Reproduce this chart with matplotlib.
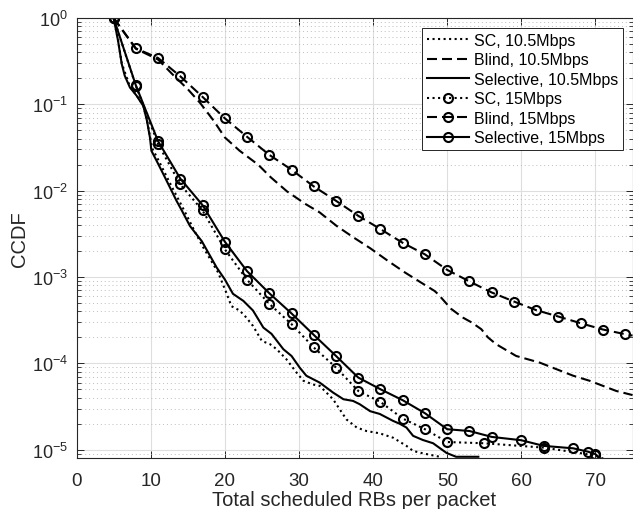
import matplotlib
matplotlib.use("Agg")
import matplotlib.pyplot as plt

plt.rcParams['font.family'] = ['Liberation Sans', 'DejaVu Sans']
plt.rcParams['mathtext.default'] = 'regular'

# SC, 10.5Mbps
sc105_x = [5, 5.6, 6.1, 7.2, 8.1, 9.0, 9.5, 9.9, 10.2, 11.0, 12.0, 13.0, 14.0, 15.0, 16.0,
           17.1, 19.1, 20.2, 20.9, 22.0, 22.9, 23.8, 25.0, 26.1, 27.0, 28.3, 29.7, 30.6,
           31.9, 32.8, 34.6, 36.4, 37.8, 39.1, 40.9, 42.7, 44.5, 45.4, 46.7, 49.0]
sc105_y = [1.0, 0.55, 0.30, 0.16, 0.127, 0.097, 0.066, 0.043, 0.031, 0.023, 0.0155, 0.0105,
           0.0072, 0.0049, 0.0033, 0.0022, 0.00113, 0.00066, 0.00046, 0.00041, 0.00034,
           0.000272, 0.000182, 0.000167, 0.000146, 0.000112, 7.8e-5, 6.3e-5, 5.7e-5, 5.5e-5,
           3.85e-5, 2.25e-5, 1.81e-5, 1.65e-5, 1.55e-5, 1.38e-5, 1.11e-5, 9.7e-6, 9.1e-6, 8.3e-6]

# Blind, 10.5Mbps
bl105_x = [5, 8, 11, 13, 15, 16.7, 18.5, 20, 22, 24.5, 26.2, 28.4, 30.9, 32.8, 35.1, 37.3,
           39.6, 42, 44.3, 46.6, 48.3, 48.8, 50.5, 52.1, 53.3, 54.6, 55.5, 56.6, 59.3, 62.5,
           64.7, 67, 69.2, 71, 72.8, 75]
bl105_y = [1.0, 0.44, 0.33, 0.22, 0.15, 0.103, 0.0646, 0.0414, 0.029, 0.020, 0.0143, 0.0098,
           0.0070, 0.0056, 0.0039, 0.0029, 0.00216, 0.00154, 0.00113, 0.00085, 0.00069, 0.00063,
           0.00043, 0.00034, 0.000298, 0.000249, 0.0002, 0.000167, 0.000122, 0.000102,
           8.6e-5, 7.2e-5, 6.3e-5, 5.5e-5, 4.8e-5, 4.3e-5]

# Selective, 10.5Mbps
se105_x = [5, 5.6, 6.1, 6.5, 7.2, 8.1, 9.0, 9.5, 9.9, 10.1, 10.8, 11.7, 12.6, 13.5, 14.2,
           15.3, 16.9, 18.9, 20.0, 21.1, 22.5, 23.8, 25.2, 26.3, 27.9, 29.0, 30.1, 31.0,
           32.8, 34.6, 36.0, 37.3, 38.2, 39.6, 40.9, 42.7, 43.6, 44.5, 45.4, 46.7, 48.1,
           49.9, 51.2, 54.2]
se105_y = [1.0, 0.546, 0.293, 0.215, 0.157, 0.126, 0.096, 0.0646, 0.0414, 0.029, 0.0222,
           0.0156, 0.0109, 0.0076, 0.0059, 0.0039, 0.0026, 0.00129, 0.00094, 0.00064, 0.00053,
           0.00041, 0.00026, 0.00022, 0.000146, 0.000122, 8.95e-5, 7.2e-5, 6.0e-5, 4.6e-5,
           3.85e-5, 3.68e-5, 3.37e-5, 2.8e-5, 2.6e-5, 2.16e-5, 2.0e-5, 1.81e-5, 1.45e-5,
           1.30e-5, 1.19e-5, 9.2e-6, 8.3e-6, 8.3e-6]

# SC, 15Mbps
sc15_x = [5, 8, 11, 14, 17, 20, 23, 26, 29, 32, 35, 38, 41, 44, 47, 50, 55, 63, 70, 72.5]
sc15_y = [1.0, 0.164, 0.0347, 0.0118, 0.0059, 0.0021, 0.00093, 0.00049, 0.000285, 0.000153,
          8.96e-5, 4.8e-5, 3.58e-5, 2.3e-5, 1.73e-5, 1.23e-5, 1.19e-5, 1.06e-5, 8.6e-6, 7.0e-6]

# Blind, 15Mbps
bl15_x = [5, 8, 11, 14, 17, 20, 23, 26, 29, 32, 35, 38, 41, 44, 47, 50, 53, 56, 59, 62, 65,
          68, 71, 74, 75]
bl15_y = [1.0, 0.445, 0.344, 0.211, 0.122, 0.0689, 0.0421, 0.026, 0.0175, 0.0112, 0.00764,
          0.00512, 0.00359, 0.00249, 0.00183, 0.00121, 0.00089, 0.000663, 0.000521, 0.000414,
          0.000349, 0.000292, 0.000247, 0.000218, 0.00021]

# Selective, 15Mbps
se15_x = [5, 8, 11, 14, 17, 20, 23, 26, 29, 32, 35, 38, 41, 44, 47, 50, 53, 56, 60, 63, 67,
          69, 70, 71.3]
se15_y = [1.0, 0.166, 0.0374, 0.0138, 0.0068, 0.00257, 0.00117, 0.00065, 0.000379, 0.000214,
          0.000122, 6.86e-5, 5.02e-5, 3.75e-5, 2.65e-5, 1.73e-5, 1.65e-5, 1.41e-5, 1.29e-5,
          1.11e-5, 1.04e-5, 9.5e-6, 8.9e-6, 7.0e-6]

fig = plt.figure(figsize=(6.33, 5.10), dpi=100)
ax = fig.add_axes([0.1209, 0.1006, 0.8784, 0.8622])

lw = 1.5
dash = (4.8, 2.4)
mk = dict(marker='o', markersize=6.5, markerfacecolor='none', markeredgewidth=1.5,
          markeredgecolor='black')

ax.plot(sc105_x, sc105_y, color='black', lw=lw, linestyle=':', label='SC, 10.5Mbps')
ax.plot(bl105_x, bl105_y, color='black', lw=lw, linestyle='--', dashes=dash,
        label='Blind, 10.5Mbps')
ax.plot(se105_x, se105_y, color='black', lw=lw, linestyle='-', label='Selective, 10.5Mbps')
ax.plot(sc15_x, sc15_y, color='black', lw=lw, linestyle=':',
        markevery=list(range(len(sc15_x) - 1)), label='SC, 15Mbps', **mk)
ax.plot(bl15_x, bl15_y, color='black', lw=lw, linestyle='--', dashes=dash,
        markevery=list(range(len(bl15_x) - 1)), label='Blind, 15Mbps', **mk)
ax.plot(se15_x, se15_y, color='black', lw=lw, linestyle='-',
        markevery=list(range(len(se15_x) - 1)), label='Selective, 15Mbps', **mk)

ax.set_yscale('log')
ax.set_xlim(0, 75)
ax.set_ylim(8.1e-6, 1)
ax.set_xticks(range(0, 80, 10))

ax.grid(True, which='major', color='#dedede', linewidth=0.8, linestyle='-')
ax.grid(True, which='minor', axis='y', color='#bdbdbd', linewidth=0.7, linestyle=(0, (1, 3)))
ax.set_axisbelow(True)

ax.tick_params(which='both', direction='in', top=True, right=True, colors='#262626')
ax.tick_params(which='major', length=5, width=0.7)
ax.tick_params(which='minor', length=3, width=0.6)
ax.tick_params(axis='x', which='major', pad=10, labelsize=13.5)
ax.tick_params(axis='y', which='major', pad=6, labelsize=13)
for s in ax.spines.values():
    s.set_color('#262626')
    s.set_linewidth(0.8)

ax.set_xlabel('Total scheduled RBs per packet', fontsize=14.5, color='#262626', labelpad=1)
ax.set_ylabel('CCDF', fontsize=14.5, color='#262626', labelpad=2)

leg = ax.legend(loc='upper right', bbox_to_anchor=(0.982, 0.977), borderaxespad=0,
                fontsize=11.5, handlelength=2.6, handletextpad=0.3, labelspacing=0.28,
                borderpad=0.3, fancybox=False, framealpha=1)
leg.get_frame().set_edgecolor('#262626')
leg.get_frame().set_linewidth(0.7)

plt.savefig('out.png', dpi=100)
